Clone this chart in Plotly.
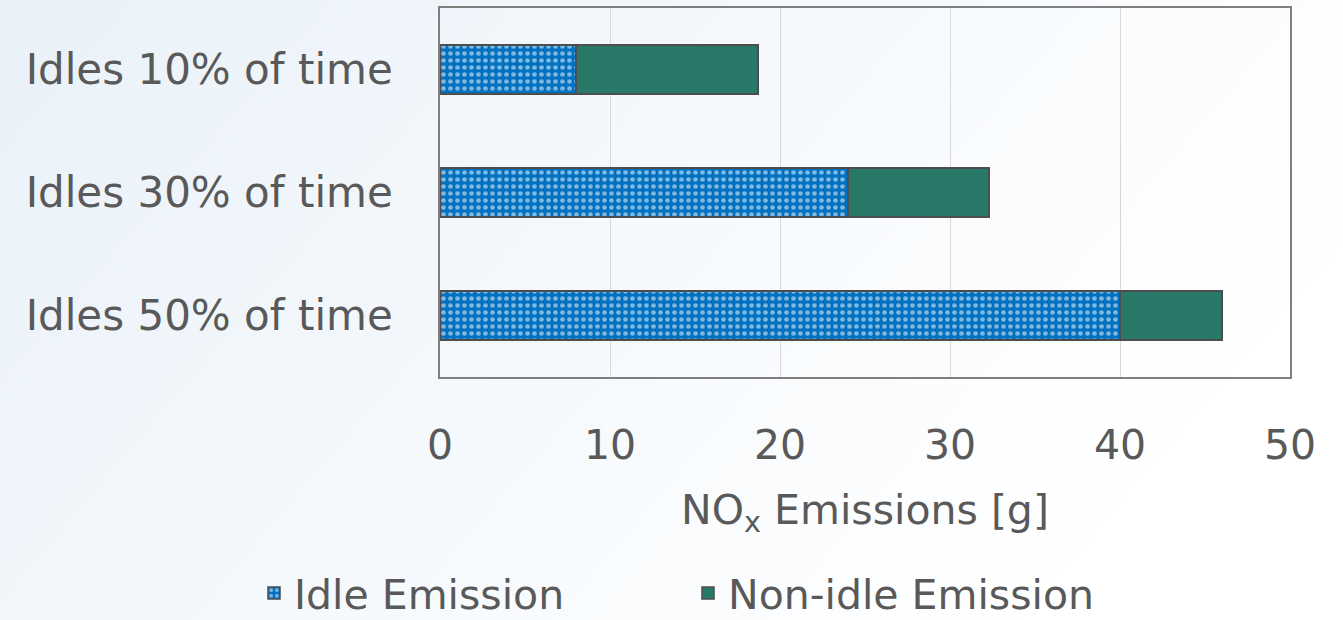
import plotly.graph_objects as go
import base64

categories = ["Idles 50% of time", "Idles 30% of time", "Idles 10% of time"]
idle_emission = [40.0, 24.0, 8.0]
non_idle_emission = [6.0, 8.3, 10.7]
x_ticks = [0, 10, 20, 30, 40, 50]

FONT = "DejaVu Sans"
TXT = "#595959"
FS = 41

fig = go.Figure()
fig.add_trace(go.Bar(
    y=categories, x=idle_emission, orientation="h", name="Idle Emission",
    legend="legend",
    marker=dict(color="#0070c0", line=dict(color="#4d4d4d", width=1.5),
                pattern=dict(shape=".", fgcolor="white", bgcolor="#0070c0",
                             size=7, solidity=0.35, fillmode="overlay")),
))
fig.add_trace(go.Bar(
    y=categories, x=non_idle_emission, orientation="h", name="Non-idle Emission",
    legend="legend2",
    marker=dict(color="#29796b", line=dict(color="#4d4d4d", width=1.5)),
))

svg = ('<svg xmlns="http://www.w3.org/2000/svg" width="1343" height="620">'
       '<defs><linearGradient id="g" x1="0" y1="0" x2="1" y2="0.4">'
       '<stop offset="0" stop-color="#e9f1f8"/><stop offset="0.6" stop-color="#f7fafd"/>'
       '<stop offset="1" stop-color="#ffffff"/></linearGradient></defs>'
       '<rect width="1343" height="620" fill="url(#g)"/></svg>')
uri = "data:image/svg+xml;base64," + base64.b64encode(svg.encode()).decode()

leg_common = dict(orientation="h", xanchor="left", xref="container",
                  y=0.043, yanchor="middle", yref="container",
                  font=dict(size=FS, color=TXT, family=FONT),
                  itemwidth=30, bgcolor="rgba(0,0,0,0)")

fig.update_layout(
    width=1343, height=620,
    margin=dict(l=440, r=53, t=8, b=243, autoexpand=False),
    barmode="stack", bargap=0.6,
    paper_bgcolor="#f5f8fb", plot_bgcolor="white",
    font=dict(family=FONT, color=TXT, size=FS),
    showlegend=True,
    legend=dict(x=254/1343, **leg_common),
    legend2=dict(x=688/1343, **leg_common),
    images=[dict(source=uri, xref="paper", yref="paper", x=-440/850, y=1+8/369,
                 sizex=1343/850, sizey=620/369, sizing="stretch", layer="below",
                 xanchor="left", yanchor="top")],
    xaxis=dict(range=[0, 50], tickvals=x_ticks, showgrid=True, gridcolor="#d9d9d9",
               gridwidth=1, zeroline=False, showline=True, linecolor="#7f7f7f",
               mirror=True, linewidth=1.5, ticks="", ticklabelstandoff=31,
               automargin=False,
               tickfont=dict(size=FS, color=TXT),
               title=dict(text="NO<sub>x</sub> Emissions [g]", font=dict(size=FS, color=TXT),
                          standoff=27)),
    yaxis=dict(showline=True, linecolor="#7f7f7f", mirror=True, linewidth=1.5,
               ticks="", ticklabelstandoff=37, automargin=False,
               tickfont=dict(size=42, color=TXT),
               categoryorder="array", categoryarray=categories),
)

fig.write_html("out.html", config={"displayModeBar": False},
               post_script="document.body.style.margin='0';")
